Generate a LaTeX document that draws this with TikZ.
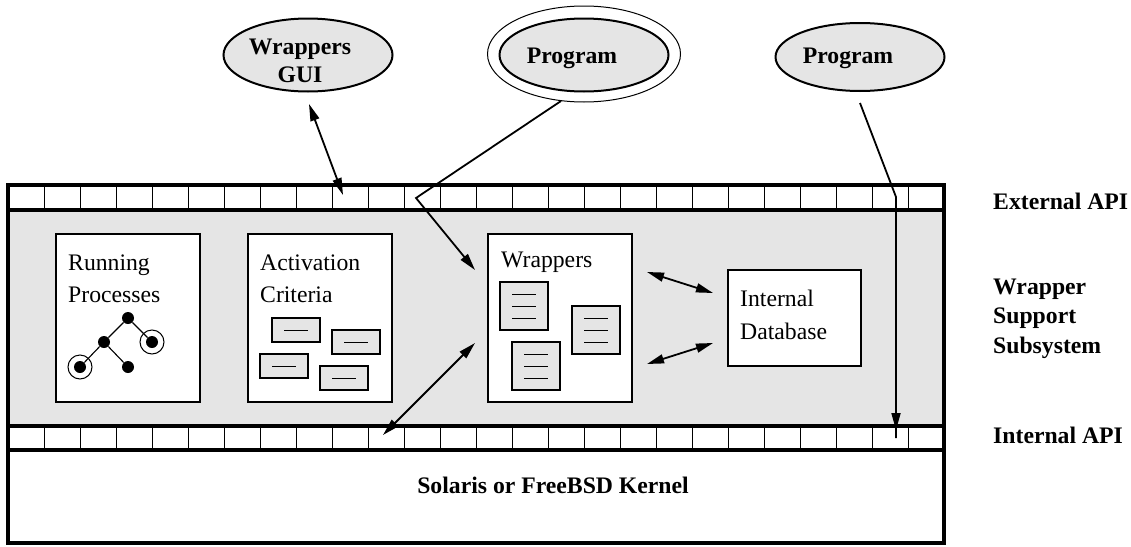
\documentclass[tikz,border=0pt]{standalone}
\usepackage{fontspec}
\setmainfont{Liberation Serif}
\usetikzlibrary{arrows.meta,shapes.geometric,positioning}
\definecolor{panelgray}{HTML}{E5E5E5}
\newcommand\figfont{\fontsize{23.7}{32}\selectfont}
\tikzset{
  band/.style={line width=4pt},
  cell/.style={line width=0.9pt},
  panel/.style={draw,fill=white,line width=2pt,minimum width=144pt,minimum height=168pt,inner sep=0pt},
  bubble/.style={draw,ellipse,fill=panelgray,line width=2pt,minimum width=169pt,minimum height=71pt,inner sep=0pt},
  btext/.style={font=\figfont\bfseries,align=center,inner sep=0pt},
  ptext/.style={font=\figfont,align=left,inner sep=0pt,anchor=base west},
  crit/.style={draw,fill=panelgray,line width=1.4pt,minimum width=48pt,minimum height=24pt,inner sep=0pt},
  doc/.style={draw,fill=panelgray,line width=1.4pt,minimum size=48pt,inner sep=0pt},
  dot/.style={circle,fill=black,minimum size=12pt,inner sep=0pt},
  ring/.style={circle,draw,line width=1pt,minimum size=24pt,inner sep=0pt},
  conn/.style={line width=1.8pt,-{Triangle[length=17pt,width=9pt]}},
  both/.style={line width=1.8pt,{Triangle[length=17pt,width=9pt]}-{Triangle[length=17pt,width=9pt]}}
}
\begin{document}
\begin{tikzpicture}[x=1pt,y=-1pt]
\useasboundingbox (0,0) rectangle (1131,546);
% wrapper support subsystem and the two API bands
\fill[panelgray] (8,210) rectangle (944,426);
\foreach \x in {44,80,...,908}{
  \draw[cell] (\x,185) -- (\x,210);
  \draw[cell] (\x,426) -- (\x,450);
}
\draw[band] (8,210) -- (944,210) (8,426) -- (944,426) (8,450) -- (944,450);
\draw[line width=3.5pt] (8,185) rectangle (944,543);
\draw[band] (8,185) -- (944,185);
\node[btext,anchor=base] (kernel) at (553,493) {Solaris or FreeBSD Kernel};

% side labels
\node[btext,anchor=base west] (extapi) at (993,209) {External API};
\node[btext,anchor=base west,align=left,font=\fontsize{23.7}{29.5}\selectfont\bfseries] (wss) at (993,353) {Wrapper\\Support\\Subsystem};
\node[btext,anchor=base west] (intapi) at (993,443) {Internal API};

% running processes
\node[panel] (running) at (128,318) {};
\node[ptext] (runtext) at (68,302) {Running\\Processes};
\node[dot] (p1) at (128,318) {};
\node[dot] (p2) at (104,342) {};
\node[dot] (p3) at (152,342) {};
\node[dot] (p4) at (80,367) {};
\node[dot] (p5) at (128,367) {};
\node[ring] at (p3) {};
\node[ring] at (p4) {};
\draw[line width=1.1pt] (p1) -- (p2) (p1) -- (p3) (p2) -- (p4) (p2) -- (p5);

% activation criteria
\node[panel] (activation) at (320,318) {};
\node[ptext] (acttext) at (260,302) {Activation\\Criteria};
\node[crit] (c1) at (296,330) {\rule{24pt}{1pt}};
\node[crit] (c2) at (356,342) {\rule{24pt}{1pt}};
\node[crit] (c3) at (284,366) {\rule{24pt}{1pt}};
\node[crit] (c4) at (344,378) {\rule{24pt}{1pt}};

% wrappers
\node[panel] (wrappers) at (560,318) {};
\node[ptext] (wraptext) at (501,267) {Wrappers};
\node[doc] (d1) at (524,306) {};
\node[doc] (d2) at (596,330) {};
\node[doc] (d3) at (536,366) {};
\foreach \d in {d1,d2,d3}
  \foreach \k in {-12,0,12}
    \draw[line width=1pt] ([xshift=-12pt,yshift=\k pt]\d.center) -- ++(24,0);

% internal database
\node[panel,minimum width=133pt,minimum height=96pt] (db) at (794.5,318) {};
\node[ptext,font=\fontsize{23.7}{33}\selectfont] (dbtext) at (740,339) {Internal\\Database};

% outside programs
\node[bubble,minimum height=73pt] (gui) at (308,55) {};
\node[btext,font=\fontsize{23.7}{28}\selectfont\bfseries,anchor=base] (guitext) at (300,82) {Wrappers\\GUI};
\node[draw,ellipse,line width=1pt,minimum width=193pt,minimum height=96pt] (prog1ring) at (584,54) {};
\node[bubble,minimum height=73pt] (prog1) at (584,55) {};
\node[btext,anchor=base] (prog1text) at (572,63) {Program};
\node[bubble,minimum height=68pt] (prog2) at (860,57) {};
\node[btext,anchor=base] (prog2text) at (848,63) {Program};

% connectors
\coordinate (guiend) at (309,104);
\coordinate (guiapi) at (343,195);
\coordinate (p1start) at (561,101);
\coordinate (p1bend) at (416,198);
\coordinate (p1end) at (475,270);
\coordinate (p2start) at (860,103);
\coordinate (p2bend) at (896,197);
\coordinate (p2end) at (896,438);
\coordinate (wdb1) at (647,272);
\coordinate (dbw1) at (713,293);
\coordinate (wdb2) at (647,364);
\coordinate (dbw2) at (713,343);
\coordinate (wk) at (475,343);
\coordinate (kw) at (383,435);
\draw[both] (guiend) -- (guiapi);
\draw[conn] (p1start) -- (p1bend) -- (p1end);
\draw[line width=1.8pt] (p2start) -- (p2bend) -- (p2end);
\draw[conn] (p2bend |- 0,410) -- (896,430);
\draw[both] (wdb1) -- (dbw1);
\draw[both] (wdb2) -- (dbw2);
\draw[both] (wk) -- (kw);
\end{tikzpicture}
\end{document}
